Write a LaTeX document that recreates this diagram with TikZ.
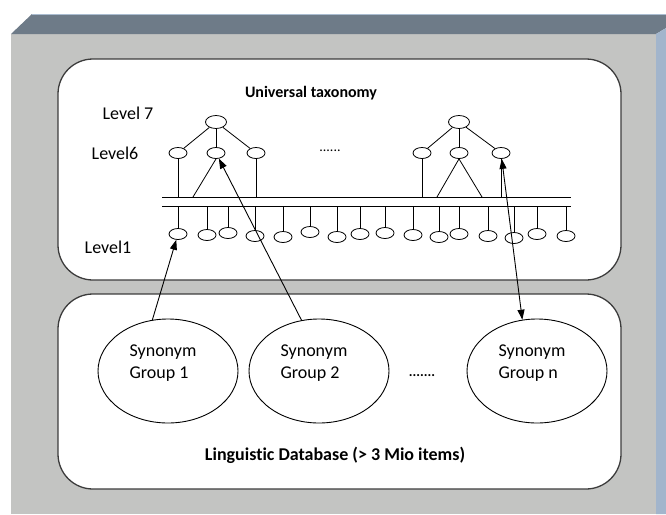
\documentclass[tikz,border=0pt]{standalone}
\usepackage{fontspec}
\setmainfont{Carlito}[Ligatures=NoCommon]
\usetikzlibrary{shapes.geometric,arrows.meta}
\definecolor{frontgray}{RGB}{195,196,194}
\definecolor{topface}{RGB}{110,123,136}
\definecolor{sideface}{RGB}{162,181,204}
\definecolor{topedge}{RGB}{170,188,208}
\definecolor{outline}{RGB}{60,60,60}
\begin{document}
\begin{tikzpicture}[x=1pt,y=-1pt,
  tnode/.style={ellipse,draw,line width=0.8pt,minimum width=18pt,minimum height=11pt,inner sep=0pt,fill=white},
  topnode/.style={tnode,minimum width=21pt,minimum height=13pt},
  tline/.style={line width=0.8pt},
  syn/.style={ellipse,draw,line width=0.9pt,minimum width=140pt,minimum height=104pt,inner sep=0pt},
  syntext/.style={align=left,font=\fontsize{18}{22}\selectfont,inner sep=0pt},
  lvl/.style={font=\fontsize{18}{22}\selectfont,inner sep=0pt},
  ttl/.style={font=\bfseries\fontsize{16}{18}\selectfont,inner sep=0pt},
  dbttl/.style={font=\bfseries\fontsize{18}{20}\selectfont,inner sep=0pt},
  dots/.style={font=\fontsize{14}{16}\selectfont,inner sep=0pt},
  arr/.style={line width=0.9pt,-{Triangle[length=10pt,width=7pt]}},
  darr/.style={line width=0.9pt,{Triangle[length=10pt,width=7pt]}-{Triangle[length=10pt,width=7pt]}},
  panel/.style={draw=outline,line width=1.3pt,fill=white,rounded corners=35pt}]
\useasboundingbox (0,0) rectangle (666,514);
\fill[white] (0,0) rectangle (666,514);
% 3D frame
\fill[frontgray] (11,34) rectangle (656,514);
\fill[topface] (11,34) -- (32,14) -- (666,14) -- (666,28) -- (656,34) -- cycle;
\fill[sideface] (656,34) -- (666,28) -- (666,514) -- (656,514) -- cycle;
\draw[topedge,line width=1pt] (32,14) -- (666,14);
% panels
\draw[panel] (58,59) rectangle (621,280);
\draw[panel] (58,294) rectangle (621,489);
% titles and level labels
\node[ttl] (title) at (311,93) {Universal taxonomy};
\node[dbttl] (dbtitle) at (335,455) {Linguistic Database (> 3 Mio items)};
\node[lvl] (lv7) at (128,113) {Level 7};
\node[lvl] (lv6) at (115,153) {Level6};
\node[lvl] (lv1) at (108,247) {Level1};
% band
\coordinate (bandL1) at (162,197); \coordinate (bandR1) at (571,197);
\coordinate (bandL2) at (162,206); \coordinate (bandR2) at (571,206);
\draw[tline] (bandL1) -- (bandR1);
\draw[tline] (bandL2) -- (bandR2);
% tree 1
\node[topnode] (t1) at (216,122) {};
\node[tnode] (a1) at (178,153) {};
\node[tnode] (a2) at (216,153) {};
\node[tnode] (a3) at (256,153) {};
\draw[tline] (t1) -- (a1); \draw[tline] (t1) -- (a2); \draw[tline] (t1) -- (a3);
\coordinate (a1b) at (178,197); \coordinate (a2b) at (193,197); \coordinate (a3b) at (256,197);
\draw[tline] (a1.south) -- (a1b);
\draw[tline] (a2.south) -- (a2b);
\draw[tline] (a3.south) -- (a3b);
% tree 2
\node[topnode] (t2) at (459,122) {};
\node[tnode] (b1) at (422,153) {};
\node[tnode] (b2) at (459,153) {};
\node[tnode] (b3) at (501,153) {};
\draw[tline] (t2) -- (b1); \draw[tline] (t2) -- (b2); \draw[tline] (t2) -- (b3);
\coordinate (b1b) at (422,197); \coordinate (b2l) at (437,197); \coordinate (b2r) at (482,197); \coordinate (b3b) at (501,197);
\draw[tline] (b1.south) -- (b1b);
\draw[tline] (b2.south) -- (b2l);
\draw[tline] (b2.south) -- (b2r);
\draw[tline] (b3.south) -- (b3b);
\node[dots] (tdots) at (330,151) {......};
% level 1
\foreach \x/\y [count=\i] in {178/234,207/235,228/233,255/236,283/237,310/232,337/237,360/234,385/233,413/235,439/237,459/234,488/236,514/238,537/234,566/236}{
  \node[tnode] (l\i) at (\x,\y) {};
  \coordinate (lt\i) at (\x,206);
  \draw[tline] (lt\i) -- (l\i.north);
}
% synonym groups
\node[syn] (s1) at (168,371) {};
\node[syn] (s2) at (319,371) {};
\node[syn] (sn) at (537,371) {};
\node[syntext] (s1t) at (163,363) {Synonym\\Group 1};
\node[syntext] (s2t) at (314,363) {Synonym\\Group 2};
\node[syntext] (snt) at (532,363) {Synonym\\Group n};
\node[dots,font=\bfseries\fontsize{14}{16}\selectfont] (sdots) at (422,376) {.......};
% arrows
\draw[arr] (s1.107) -- (l1);
\draw[arr] (s2.109) -- (a2);
\draw[darr] (b3) -- (sn.106);
\end{tikzpicture}
\end{document}
